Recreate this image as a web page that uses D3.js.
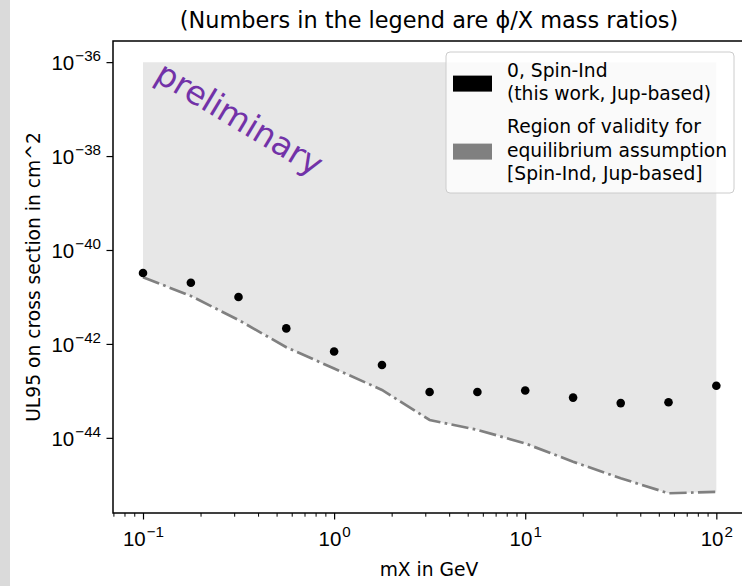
<!DOCTYPE html>
<html>
<head>
<meta charset="utf-8">
<script src="https://cdn.jsdelivr.net/npm/d3@7"></script>
<style>
  html, body { margin: 0; padding: 0; background: #ffffff; }
  svg { display: block; font-family: "DejaVu Sans", sans-serif; }
</style>
</head>
<body>
<svg id="chart" width="742" height="586"></svg>
<script>
// ---- data ----
const massX = [0.1, 0.178, 0.316, 0.562, 1, 1.78, 3.16, 5.62, 10, 17.8, 31.6, 56.2, 100];
const ul95SpinInd = [3.24e-41, 2.0e-41, 1.0e-41, 2.14e-42, 6.9e-43, 3.55e-43, 9.5e-44, 9.5e-44, 1.02e-43, 7.2e-44, 5.5e-44, 5.75e-44, 1.29e-43];
const validityLower = [2.63e-41, 1.05e-41, 3.24e-42, 8.5e-43, 3.0e-43, 1.05e-43, 2.4e-44, 1.48e-44, 7.6e-45, 3.1e-45, 1.38e-45, 6.6e-46, 7.1e-46];
const validityUpper = 1e-36;
const xTickValues = [0.1, 1, 10, 100];
const xTickExponents = ["\u22121", "0", "1", "2"];
const yTickValues = [1e-36, 1e-38, 1e-40, 1e-42, 1e-44];
const yTickExponents = ["\u221236", "\u221238", "\u221240", "\u221242", "\u221244"];
const legendEntries = [
  { lines: ["0, Spin-Ind", "(this work, Jup-based)"], color: "#000000" },
  { lines: ["Region of validity for", "equilibrium assumption", "[Spin-Ind, Jup-based]"], color: "#808080" }
];
const titleText = "(Numbers in the legend are \u03D5/X mass ratios)";
const xLabel = "mX in GeV";
const yLabel = "UL95 on cross section in cm^2";

// ---- layout ----
const L = 113, R = 745, T = 41, B = 513;
const svg = d3.select("#chart");

// textured left strip of the photo background
svg.append("rect").attr("x", 0).attr("y", 0).attr("width", 10).attr("height", 586).attr("fill", "#dadada");

const x = d3.scaleLog().domain([Math.pow(10, -1.157), Math.pow(10, 2.15)]).range([L, R]);
const y = d3.scaleLog().domain([Math.pow(10, -45.6), Math.pow(10, -35.55)]).range([B, T]);

svg.append("defs").append("clipPath").attr("id", "plotclip")
  .append("rect").attr("x", L).attr("y", T).attr("width", R - L).attr("height", B - T);

const plot = svg.append("g").attr("clip-path", "url(#plotclip)");

const rows = massX.map((m, i) => ({ m, v: ul95SpinInd[i], lo: validityLower[i] }));

// validity region
const area = d3.area().x(d => x(d.m)).y0(d => y(d.lo)).y1(() => y(validityUpper));
plot.append("path").datum(rows).attr("d", area).attr("fill", "#e7e7e7");

// validity lower boundary (dash-dot)
const line = d3.line().x(d => x(d.m)).y(d => y(d.lo));
plot.append("path").datum(rows).attr("d", line)
  .attr("fill", "none").attr("stroke", "#808080").attr("stroke-width", 2.7)
  .attr("stroke-dasharray", "17.3,4.3,2.7,4.3");

// limit points
plot.selectAll("circle.pt").data(rows).enter().append("circle")
  .attr("class", "pt").attr("cx", d => x(d.m)).attr("cy", d => y(d.v)).attr("r", 4.3).attr("fill", "#000");

// preliminary watermark
svg.append("text").attr("transform", "translate(153,80) rotate(31)")
  .attr("font-size", 33).attr("fill", "#7232a8").text("preliminary");

// ---- axes ----
const fs = 18.7;
const tfs = 20.5;
const xMinor = [];
for (let e = -2; e <= 2; e++) for (let k = 2; k <= 9; k++) {
  const v = k * Math.pow(10, e);
  if (x(v) >= L && x(v) <= R) xMinor.push(v);
}
const gxMinor = svg.append("g").attr("transform", `translate(0,${B})`)
  .call(d3.axisBottom(x).tickValues(xMinor).tickSize(3.7).tickFormat(""));
gxMinor.select(".domain").remove();
gxMinor.selectAll("line").attr("stroke", "#000").attr("stroke-width", 1.0);

const gx = svg.append("g").attr("transform", `translate(0,${B})`)
  .call(d3.axisBottom(x).tickValues(xTickValues).tickSize(6.5).tickFormat(""));
gx.select(".domain").remove();
gx.selectAll("line").attr("stroke", "#000").attr("stroke-width", 1.2);
gx.selectAll(".tick").each(function(d, i) {
  const t = d3.select(this).append("text").attr("y", 33).attr("fill", "#000")
    .attr("text-anchor", "middle").attr("font-size", tfs);
  t.append("tspan").text("10");
  t.append("tspan").attr("dx", 1).attr("dy", -9).attr("font-size", tfs * 0.74).text(xTickExponents[i]);
});

const gy = svg.append("g").attr("transform", `translate(${L},0)`)
  .call(d3.axisLeft(y).tickValues(yTickValues).tickSize(6.5).tickFormat(""));
gy.select(".domain").remove();
gy.selectAll("line").attr("stroke", "#000").attr("stroke-width", 1.2);
gy.selectAll(".tick").each(function(d, i) {
  const t = d3.select(this).append("text").attr("x", -12).attr("y", 7.5).attr("fill", "#000")
    .attr("text-anchor", "end").attr("font-size", tfs);
  t.append("tspan").text("10");
  t.append("tspan").attr("dx", 1).attr("dy", -9).attr("font-size", tfs * 0.74).text(yTickExponents[i]);
});

// frame
svg.append("rect").attr("x", L).attr("y", T).attr("width", R - L).attr("height", B - T)
  .attr("fill", "none").attr("stroke", "#000").attr("stroke-width", 1.5);

// labels
svg.append("text").attr("x", (L + R) / 2).attr("y", 576).attr("text-anchor", "middle")
  .attr("font-size", fs).text(xLabel);
svg.append("text").attr("transform", `translate(40,${(T + B) / 2}) rotate(-90)`)
  .attr("text-anchor", "middle").attr("font-size", fs).text(yLabel);
svg.append("text").attr("x", (L + R) / 2).attr("y", 28).attr("text-anchor", "middle")
  .attr("font-size", 22.4).text(titleText);

// ---- legend ----
const lg = svg.append("g");
lg.append("rect").attr("x", 446).attr("y", 52).attr("width", 288).attr("height", 141).attr("rx", 4)
  .attr("fill", "#ffffff").attr("fill-opacity", 0.8).attr("stroke", "#cccccc").attr("stroke-width", 1);
const lineH = 23.2;
let baseY = 77;
legendEntries.forEach(e => {
  const n = e.lines.length;
  const top = baseY - 14;
  const bottom = baseY + (n - 1) * lineH + 4;
  const cy = (top + bottom) / 2;
  lg.append("rect").attr("x", 453).attr("y", cy - 8).attr("width", 39).attr("height", 16).attr("fill", e.color);
  e.lines.forEach((s, j) => {
    lg.append("text").attr("x", 507).attr("y", baseY + j * lineH).attr("font-size", fs).text(s);
  });
  baseY += n * lineH + 10;
});
</script>
</body>
</html>
